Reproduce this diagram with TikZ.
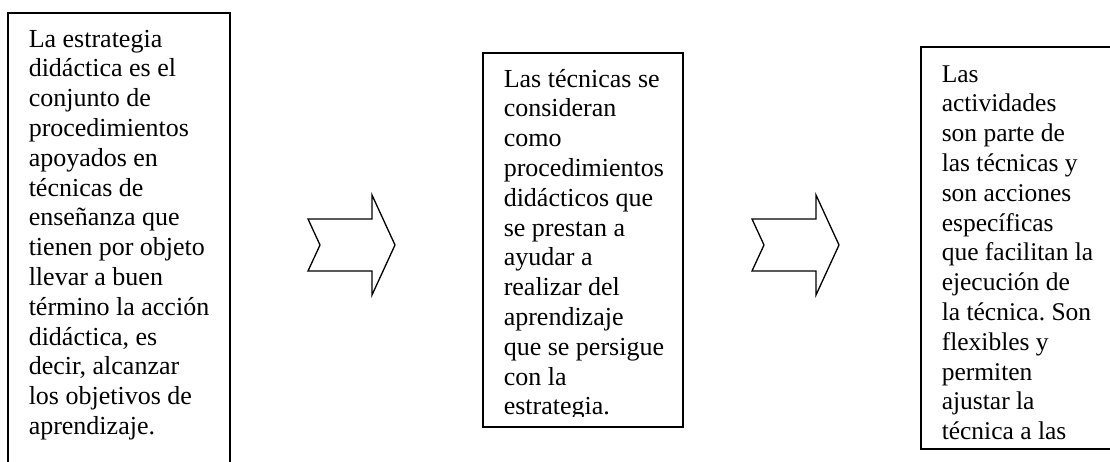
\documentclass[tikz,border=0pt]{standalone}
\usepackage{fontspec}
\setmainfont{Liberation Serif}
\frenchspacing
\begin{document}
\begin{tikzpicture}[x=1pt,y=-1pt,line width=1.5pt,
    txt/.style={anchor=base west,inner sep=0pt,align=left,font=\fontsize{26}{29.8}\selectfont},
    chev/.style={line width=1.3pt,line join=miter}]
  \useasboundingbox (0,0) rectangle (1110,462);
  \draw (8,470) -- (8,13) -- (230,13) -- (230,470);
  \node[txt] (estrategia) at (28,434.4) {La estrategia\\didáctica es el\\conjunto de\\procedimientos\\apoyados en\\técnicas de\\enseñanza que\\tienen por objeto\\llevar a buen\\término la acción\\didáctica, es\\decir, alcanzar\\los objetivos de\\aprendizaje.};
  \draw (483,53) rectangle (683,427);
  \begin{scope}
    \clip (483,53) rectangle (683,416);
    \node[txt] (tecnicas) at (503,414.8) {Las técnicas se\\consideran\\como\\procedimientos\\didácticos que\\se prestan a\\ayudar a\\realizar del\\aprendizaje\\que se persigue\\con la\\estrategia.};
  \end{scope}
  \draw (1120,47) -- (921,47) -- (921,449) -- (1120,449);
  \node[txt,font=\fontsize{25.5}{29.8}\selectfont] (actividades) at (941,439.6) {Las\\actividades\\son parte de\\las técnicas y\\son acciones\\específicas\\que facilitan la\\ejecución de\\la técnica. Son\\flexibles y\\permiten\\ajustar la\\técnica a las};
  \foreach \x in {308,752}
    \draw[chev] (\x,219) -- ++(64,0) -- ++(0,-24) -- ++(23,50) -- ++(-23,50)
      -- ++(0,-24) -- ++(-64,0) -- ++(12,-26) -- cycle;
\end{tikzpicture}
\end{document}
